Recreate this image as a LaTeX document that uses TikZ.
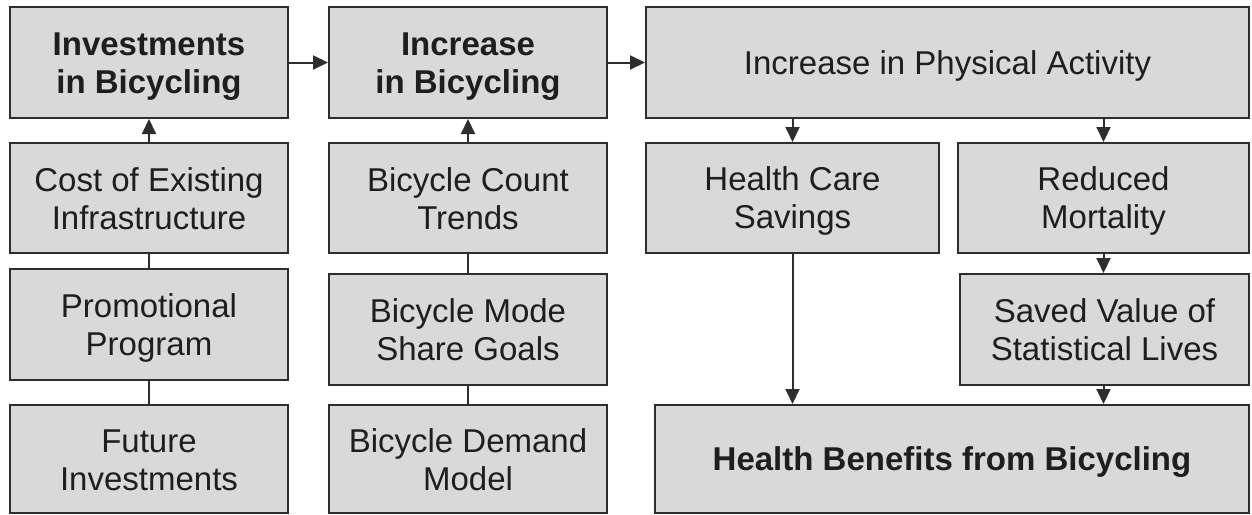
\documentclass[tikz,border=0pt]{standalone}
\usepackage{fontspec}
\setmainfont{Liberation Sans}
\usetikzlibrary{arrows.meta}
\definecolor{boxfill}{HTML}{D9D9D9}
\definecolor{boxline}{HTML}{2E2E2E}
\definecolor{txt}{HTML}{1E1E1E}
\newcommand\mytopstrut{\rule{0pt}{30pt}}
\newcommand\mybotstrut{\rule[-6pt]{0pt}{0pt}}
\tikzset{
  box/.style={draw=boxline, fill=boxfill, line width=2pt, inner sep=0pt,
    align=center, text=txt, font=\fontsize{33pt}{38pt}\selectfont},
  boldbox/.style={box, font=\fontsize{33pt}{38pt}\selectfont\bfseries},
  arr/.style={draw=boxline, line width=2pt, -{Triangle[length=15pt,width=14pt]}},
  link/.style={draw=boxline, line width=2pt}
}
\begin{document}
\begin{tikzpicture}[x=1pt,y=-1pt]
\useasboundingbox[fill=white] (0,0) rectangle (1252,514);
% column 1
\node[boldbox, minimum width=278pt, minimum height=111pt] (inv) at (149,62.5) {\mytopstrut Investments\\in Bicycling\mybotstrut};
\node[box, minimum width=278pt, minimum height=110pt] (cost) at (149,198) {\mytopstrut Cost of Existing\\Infrastructure\mybotstrut};
\node[box, minimum width=278pt, minimum height=111pt] (promo) at (149,324.5) {\mytopstrut Promotional\\Program\mybotstrut};
\node[box, minimum width=278pt, minimum height=108pt] (future) at (149,459) {\mytopstrut Future\\Investments\mybotstrut};
% column 2
\node[boldbox, minimum width=278pt, minimum height=111pt] (incr) at (468,62.5) {\mytopstrut Increase\\in Bicycling\mybotstrut};
\node[box, minimum width=278pt, minimum height=110pt] (count) at (468,198) {\mytopstrut Bicycle Count\\Trends\mybotstrut};
\node[box, minimum width=278pt, minimum height=111pt] (mode) at (468,329.5) {\mytopstrut Bicycle Mode\\Share Goals\mybotstrut};
\node[box, minimum width=278pt, minimum height=108pt] (demand) at (468,459) {\mytopstrut Bicycle Demand\\Model\mybotstrut};
% column 3
\node[box, minimum width=603pt, minimum height=111pt] (phys) at (947.5,62.5) {\mytopstrut Increase in Physical Activity\mybotstrut};
\node[box, minimum width=293pt, minimum height=110pt] (hcs) at (792.5,198) {\mytopstrut Health Care\\Savings\mybotstrut};
\node[box, minimum width=291pt, minimum height=110pt] (mort) at (1103.5,198) {\mytopstrut Reduced\\Mortality\mybotstrut};
\node[box, minimum width=289pt, minimum height=111pt] (saved) at (1104.5,329.5) {\mytopstrut Saved Value of\\Statistical Lives\mybotstrut};
\node[boldbox, minimum width=594pt, minimum height=108pt] (hb) at (952,459) {\mytopstrut Health Benefits from Bicycling\mybotstrut};
% connectors
\draw[arr] (inv.east) -- (incr.west);
\draw[arr] (incr.east) -- (phys.west);
\draw[arr] (cost.north) -- (inv.south);
\draw[link] (cost.south) -- (promo.north);
\draw[link] (promo.south) -- (future.north);
\draw[arr] (count.north) -- (incr.south);
\draw[link] (count.south) -- (mode.north);
\draw[link] (mode.south) -- (demand.north);
\draw[arr] (phys.south -| hcs.north) -- (hcs.north);
\draw[arr] (phys.south -| mort.north) -- (mort.north);
\draw[arr] (mort.south) -- (saved.north -| mort.south);
\draw[arr] (saved.south -| mort.south) -- (hb.north -| mort.south);
\draw[arr] (hcs.south) -- (hb.north -| hcs.south);
\end{tikzpicture}
\end{document}
